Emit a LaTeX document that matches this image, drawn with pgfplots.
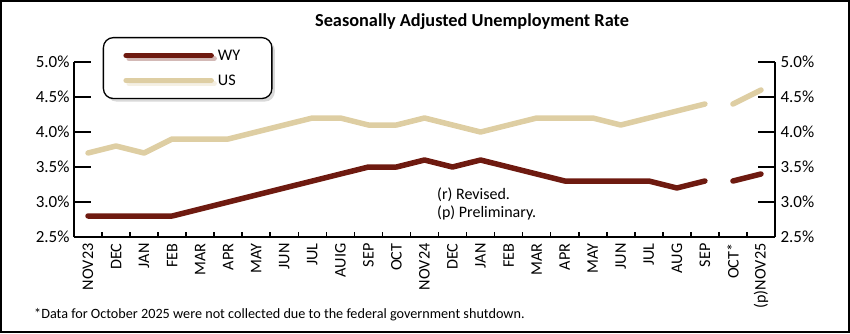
\documentclass[border=0pt]{standalone}
\usepackage{pgfplots}
\pgfplotsset{compat=1.18}
\usepackage{pgfplotstable}
\usepackage{fontspec}
\setmainfont{Carlito}
\usetikzlibrary{shadows}
\definecolor{wy}{RGB}{110,26,16}
\definecolor{us}{RGB}{222,206,163}

\pgfplotstableread{
x wy us
0 2.8 3.7
1 2.8 3.8
2 2.8 3.7
3 2.8 3.9
4 2.9 3.9
5 3.0 3.9
6 3.1 4.0
7 3.2 4.1
8 3.3 4.2
9 3.4 4.2
10 3.5 4.1
11 3.5 4.1
12 3.6 4.2
13 3.5 4.1
14 3.6 4.0
15 3.5 4.1
16 3.4 4.2
17 3.3 4.2
18 3.3 4.2
19 3.3 4.1
20 3.3 4.2
21 3.2 4.3
22 3.3 4.4
22.5 nan nan
23 3.3 4.4
24 3.4 4.6
}\data

\begin{document}
\begin{tikzpicture}
\useasboundingbox (0pt,0pt) rectangle (850pt,333pt);
\begin{axis}[
  at={(74pt,96pt)}, anchor=south west,
  scale only axis, width=701pt, height=175pt,
  xmin=-0.5, xmax=24.5, ymin=2.5, ymax=5.0,
  axis x line*=bottom, axis y line*=left,
  tick align=inside,
  axis line style={line width=1.6pt},
  every tick/.style={line width=1.6pt, black},
  xtick={0,...,24},
  xticklabels={NOV23,DEC,JAN,FEB,MAR,APR,MAY,JUN,JUL,AUIG,SEP,OCT,NOV24,DEC,JAN,FEB,MAR,APR,MAY,JUN,JUL,AUG,SEP,OCT*,(p)NOV25},
  major x tick style={draw=none},
  minor xtick={-0.5,0.5,...,24.5},
  minor tick length=5pt,
  major tick length=17pt,
  ytick={2.5,3.0,3.5,4.0,4.5,5.0},
  yticklabel={\pgfmathprintnumber[fixed,fixed zerofill,precision=1]{\tick}\%},
  /pgf/number format/assume math mode=true,
  yticklabel style={font=\fontsize{17}{19}\selectfont, xshift=-1pt},
  xticklabel style={font=\fontsize{16.2}{18}\selectfont, rotate=90, anchor=east, xshift=-3pt},
  unbounded coords=jump,
  clip=false,
  legend style={at={(0.041,1.143)}, anchor=north west, draw=black, line width=1.3pt,
    rounded corners=10pt, fill=white,
    drop shadow={shadow xshift=3pt, shadow yshift=-3pt, opacity=0.3},
    inner xsep=20pt, inner ysep=10pt, row sep=9pt,
    nodes={inner xsep=4pt},
    /tikz/column 2/.style={text width=30pt},
    font=\fontsize{16.2}{18}\selectfont},
  legend cell align=left,
  legend image code/.code={\draw[#1] (0pt,0pt) -- (85pt,0pt);},
]
\addplot[wy, line width=5.5pt, line cap=round, line join=round] table[x=x,y=wy]{\data};
\addlegendentry{WY}
\addplot[us, line width=5.5pt, line cap=round, line join=round] table[x=x,y=us]{\data};
\addlegendentry{US}
\end{axis}
\begin{axis}[
  at={(74pt,96pt)}, anchor=south west,
  scale only axis, width=701pt, height=175pt,
  xmin=-0.5, xmax=24.5, ymin=2.5, ymax=5.0,
  axis y line*=right, axis x line=none,
  tick align=inside,
  axis line style={line width=1.6pt},
  every tick/.style={line width=1.6pt, black},
  major tick length=17pt,
  ytick={2.5,3.0,3.5,4.0,4.5,5.0},
  yticklabel={\pgfmathprintnumber[fixed,fixed zerofill,precision=1]{\tick}\%},
  /pgf/number format/assume math mode=true,
  yticklabel style={font=\fontsize{17}{19}\selectfont, xshift=2pt},
]
\end{axis}
\node[font=\bfseries\fontsize{18.3}{21}\selectfont] at (472pt,311pt) {Seasonally Adjusted Unemployment Rate};
\node[anchor=west, font=\fontsize{16}{18}\selectfont, inner sep=0pt] at (437pt,138pt) {(r) Revised.};
\node[anchor=west, font=\fontsize{16}{18}\selectfont, inner sep=0pt] at (437pt,120pt) {(p) Preliminary.};
\node[anchor=west, font=\fontsize{14.2}{17}\selectfont, inner sep=0pt] at (34pt,18pt) {*Data for October 2025 were not collected due to the federal government shutdown.};
\draw[line width=2pt] (1pt,1pt) rectangle (849pt,332pt);
\end{tikzpicture}
\end{document}
